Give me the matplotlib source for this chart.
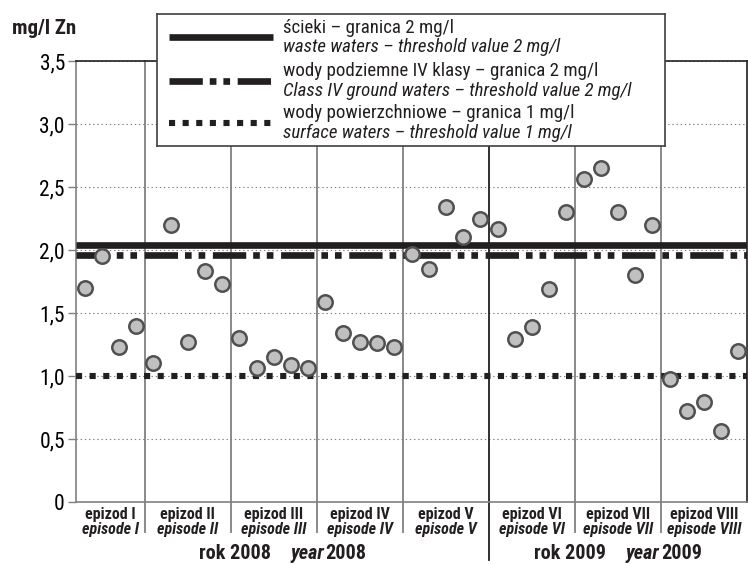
import numpy as np
import matplotlib
matplotlib.use('Agg')
import matplotlib.pyplot as plt
from matplotlib import font_manager
from matplotlib.offsetbox import TextArea, HPacker, DrawingArea, AnnotationBbox

# data: Zn concentration (mg/l) per sample, grouped by episode
ep1 = [1.70, 1.95, 1.23, 1.40]
ep2 = [1.10, 2.20, 1.27, 1.83, 1.73]
ep3 = [1.30, 1.06, 1.15, 1.09, 1.06]
ep4 = [1.59, 1.34, 1.27, 1.26, 1.23]
ep5 = [1.97, 1.85, 2.34, 2.10, 2.25]
ep6 = [2.17, 1.29, 1.39, 1.69, 2.30]
ep7 = [2.56, 2.65, 2.30, 1.80, 2.20]
ep8 = [0.98, 0.72, 0.79, 0.56, 1.20]
episodes = [ep1, ep2, ep3, ep4, ep5, ep6, ep7, ep8]

ep_pl = ['epizod I', 'epizod II', 'epizod III', 'epizod IV',
         'epizod V', 'epizod VI', 'epizod VII', 'epizod VIII']
ep_en = ['episode I', 'episode II', 'episode III', 'episode IV',
         'episode V', 'episode VI', 'episode VII', 'episode VIII']

years = ['2008', '2009']
year_start = [0, 5]   # first episode of each year

# threshold values
thr_values = [2.0, 2.0, 1.0]
thr_pl = ['ścieki – granica 2 mg/l',
          'wody podziemne IV klasy – granica 2 mg/l',
          'wody powierzchniowe – granica 1 mg/l']
thr_en = ['waste waters – threshold value 2 mg/l',
          'Class IV ground waters – threshold value 2 mg/l',
          'surface waters – threshold value 1 mg/l']

yticks = [0, 0.5, 1.0, 1.5, 2.0, 2.5, 3.0, 3.5]
ytick_labels = ['0', '0,5', '1,0', '1,5', '2,0', '2,5', '3,0', '3,5']

# fonts: narrow sans if we have one
names = set(font_manager.get_font_names())
narrow = next((f for f in ['Liberation Sans Narrow', 'DejaVu Sans Condensed', 'Roboto Condensed']
               if f in names), 'DejaVu Sans')
plt.rcParams['font.family'] = [narrow, 'DejaVu Sans']
plt.rcParams['lines.scale_dashes'] = False

black = '#231f20'
grey = '#808080'

# line styles for thresholds (small offset so the two 2 mg/l lines both show)
thr_styles = [dict(ls='-', lw=4.8, offset=0.04),
              dict(ls=(0, (24, 5, 4.8, 5, 4.8, 5.5)), lw=4.8, offset=-0.04),
              dict(ls=(0, (4.4, 5.4)), lw=4.4, offset=0.0)]

# x positions: one slot per sample
x = []
bounds = [-0.5]
i = 0
for ep in episodes:
    x.extend(range(i, i + len(ep)))
    i += len(ep)
    bounds.append(i - 0.5)
values = np.concatenate(episodes)

fig = plt.figure(figsize=(7.48, 5.64), dpi=100)
ax = fig.add_axes([76/748, 62/564, 671/748, 441/564])

ax.set_xlim(bounds[0], bounds[-1])
ax.set_ylim(0, 3.5)
ax.set_yticks(yticks)
ax.set_yticklabels(ytick_labels, fontsize=15.5)
ax.set_xticks([])
ax.tick_params(axis='y', length=6, width=1, color=grey, pad=2)
ax.yaxis.grid(True, ls=(0, (1, 2)), color=grey, lw=0.8)
ax.set_axisbelow(True)

for s in ['left', 'bottom']:
    ax.spines[s].set_color(grey)
    ax.spines[s].set_linewidth(1.2)
for s in ['top', 'right']:
    ax.spines[s].set_color(black)
    ax.spines[s].set_linewidth(1.2)

# episode dividers, the year one darker and longer
year_bounds = [bounds[k] for k in year_start[1:]]
for b in bounds[1:-1]:
    if b in year_bounds:
        ax.plot([b, b], [-0.46, 3.5], color=black, lw=1.3, clip_on=False, zorder=2)
    else:
        ax.plot([b, b], [-0.24, 3.5], color=grey, lw=1.3, clip_on=False, zorder=2)

# thresholds
for v, st in zip(thr_values, thr_styles):
    ax.axhline(v + st['offset'], color=black, ls=st['ls'], lw=st['lw'],
               solid_capstyle='butt', dash_capstyle='butt', zorder=3)

# measurements
ax.scatter(x, values, s=108, facecolor='#c0c0c0', edgecolor='#505050', lw=1.8, zorder=5)

# episode labels under the axis
for k in range(len(episodes)):
    c = (bounds[k] + bounds[k + 1]) / 2
    ax.text(c, -0.10, ep_pl[k], ha='center', va='center', fontsize=11.5,
            fontweight='bold', color=black, clip_on=False)
    ax.text(c, -0.215, ep_en[k], ha='center', va='center', fontsize=11.5,
            fontweight='bold', fontstyle='italic', color=black, clip_on=False)

# year labels
year_edges = year_start + [len(episodes)]
for k, yr in enumerate(years):
    c = (bounds[year_edges[k]] + bounds[year_edges[k + 1]]) / 2
    bold = dict(fontsize=14.5, fontweight='bold', color=black)
    parts = [TextArea('rok ' + yr, textprops=bold),
             DrawingArea(14, 1),
             TextArea('year', textprops=dict(bold, fontstyle='italic')),
             DrawingArea(1, 1),
             TextArea(yr, textprops=bold)]
    box = HPacker(children=parts, sep=0, pad=0, align='baseline')
    ab = AnnotationBbox(box, (c, -0.405), xycoords='data', frameon=False,
                        box_alignment=(0.5, 0.5), annotation_clip=False)
    ax.add_artist(ab)

fig.text(12/748, 1 - 28/564, 'mg/l Zn', fontsize=15, fontweight='bold',
         color=black, va='center', ha='left')

# legend box, drawn by hand
lax = fig.add_axes([157/748, 418/564, 508/748, 132/564])
lax.set_xlim(0, 1)
lax.set_ylim(0, 1)
lax.set_xticks([])
lax.set_yticks([])
for s in lax.spines.values():
    s.set_color('#404040')
    s.set_linewidth(1.2)

handle_y = [0.823, 0.492, 0.174]
for k in range(3):
    st = thr_styles[k]
    lax.plot([0.024, 0.228], [handle_y[k], handle_y[k]], color=black, ls=st['ls'],
             lw=st['lw'], solid_capstyle='butt', dash_capstyle='butt')
    lax.text(0.248, handle_y[k] + 0.074, thr_pl[k], fontsize=13.6, va='center', color=black)
    lax.text(0.248, handle_y[k] - 0.074, thr_en[k], fontsize=13.6, va='center',
             fontstyle='italic', color=black)

plt.savefig('out.png', dpi=100)
